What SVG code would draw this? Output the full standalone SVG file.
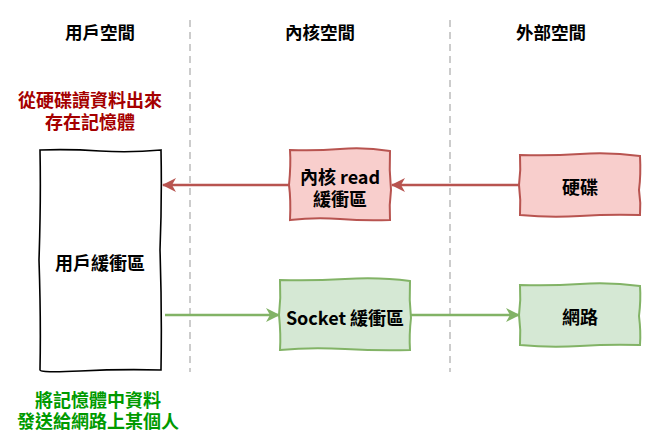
<svg xmlns="http://www.w3.org/2000/svg" width="661" height="441" viewBox="0 0 661 441">
<defs>
<style>
text{font-family:"Noto Sans CJK TC","Noto Sans",sans-serif;font-size:18px;text-anchor:middle;dominant-baseline:central;fill:#000}
.hdr{font-weight:600;font-size:17.5px}
.b{font-weight:700}
.red{fill:#A50000;font-weight:700}
.grn{fill:#009A00;font-weight:700}
.sep{stroke:#CCCCCC;stroke-width:2;stroke-dasharray:7 5;fill:none}
.rbox{fill:#F8CECC;stroke:#B85450;stroke-width:2}
.gbox{fill:#D5E8D4;stroke:#82B366;stroke-width:2}
.wbox{fill:#FFFFFF;stroke:#000000;stroke-width:1.6}
.ra{stroke:#B85450;stroke-width:2.5;fill:none}
.ga{stroke:#82B366;stroke-width:2.5;fill:none}
</style>
<marker id="mr" markerUnits="userSpaceOnUse" markerWidth="16" markerHeight="14" refX="13" refY="7" orient="auto">
<path d="M0,0 L14,7 L0,14 L4,7 Z" fill="#B85450"/>
</marker>
<marker id="mg" markerUnits="userSpaceOnUse" markerWidth="16" markerHeight="14" refX="13" refY="7" orient="auto">
<path d="M0,0 L14,7 L0,14 L4,7 Z" fill="#82B366"/>
</marker>
</defs>
<g id="separators">
<line class="sep" x1="190" y1="20" x2="190" y2="372"/>
<line class="sep" x1="450" y1="20" x2="450" y2="372"/>
</g>
<g id="headers">
<text class="hdr" x="100" y="31">用戶空間</text>
<text class="hdr" x="320" y="31">內核空間</text>
<text class="hdr" x="551" y="31">外部空間</text>
</g>
<g id="note-read">
<text class="red"><tspan x="90" y="99">從硬碟讀資料出來</tspan><tspan x="90" y="121">存在記憶體</tspan></text>
</g>
<g id="note-send">
<text class="grn"><tspan x="98" y="399">將記憶體中資料</tspan><tspan x="98" y="420">發送給網路上某個人</tspan></text>
</g>
<g id="connectors">
<line class="ra" x1="520" y1="185" x2="392" y2="185" marker-end="url(#mr)"/>
<line class="ra" x1="290" y1="185" x2="163" y2="185" marker-end="url(#mr)"/>
<line class="ga" x1="165" y1="315" x2="279" y2="315" marker-end="url(#mg)"/>
<line class="ga" x1="410" y1="315" x2="519" y2="315" marker-end="url(#mg)"/>
</g>
<g id="user-buffer">
<path class="wbox" d="M40,150 Q70,149 100,151 T161,150 Q162,200 160,250 Q162,310 161,370 Q120,369 80,371 T40,370 Q41,320 39,260 Q41,200 40,150 Z"/>
<text class="b" x="100" y="262">用戶緩衝區</text>
</g>
<g id="kernel-read-buffer">
<path class="rbox" d="M290,150 Q315,151 340,149 T390,151 Q389,170 391,190 Q389,205 390,220 Q365,221 340,219 T290,220 Q291,200 289,185 Q291,165 290,150 Z"/>
<text class="b"><tspan x="340" y="176">內核 read</tspan><tspan x="340" y="198">緩衝區</tspan></text>
</g>
<g id="disk">
<path class="rbox" d="M520,155 Q550,156 580,154 T640,156 Q641,175 639,190 Q641,203 640,215 Q610,214 580,216 T520,215 Q521,200 519,185 Q521,170 520,155 Z"/>
<text class="b" x="580" y="186">硬碟</text>
</g>
<g id="socket-buffer">
<path class="gbox" d="M280,280 Q310,281 345,279 T410,281 Q409,300 411,318 Q409,335 410,350 Q380,351 345,349 T280,350 Q281,335 279,315 Q281,298 280,280 Z"/>
<text class="b" x="345" y="317">Socket 緩衝區</text>
</g>
<g id="network">
<path class="gbox" d="M520,285 Q550,286 580,284 T640,286 Q641,300 639,316 Q641,332 640,345 Q610,344 580,346 T520,345 Q521,330 519,315 Q521,300 520,285 Z"/>
<text class="b" x="580" y="316">網路</text>
</g>
</svg>
